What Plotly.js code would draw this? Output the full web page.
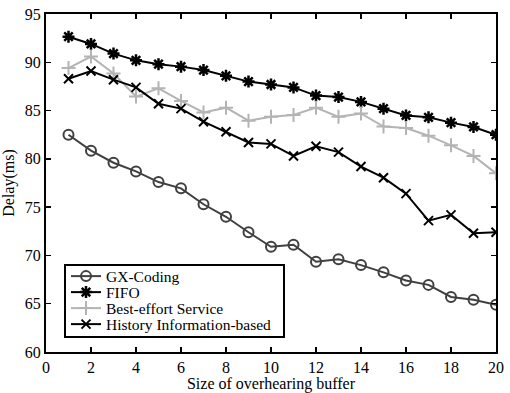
<!DOCTYPE html>
<html><head><meta charset="utf-8">
<script src="https://cdn.plot.ly/plotly-3.0.1.min.js"></script>
<style>html,body{margin:0;padding:0;background:#fff}#c{width:510px;height:393px}</style>
</head><body><div id="c"></div>
<script>
const bufferSize = [1,2,3,4,5,6,7,8,9,10,11,12,13,14,15,16,17,18,19,20];
const gxCoding = [82.5,80.85,79.6,78.7,77.6,76.95,75.3,74.0,72.4,70.9,71.1,69.35,69.6,69.0,68.25,67.4,66.95,65.7,65.4,64.9];
const fifo = [92.65,91.9,90.9,90.2,89.8,89.55,89.2,88.6,88.0,87.7,87.4,86.55,86.4,85.9,85.2,84.5,84.3,83.75,83.3,82.5];
const bestEffort = [89.4,90.6,88.85,86.45,87.3,86.0,84.8,85.3,83.95,84.35,84.55,85.3,84.35,84.7,83.35,83.2,82.4,81.4,80.3,78.5];
const history = [88.3,89.1,88.2,87.4,85.7,85.2,83.85,82.8,81.7,81.55,80.3,81.3,80.7,79.2,78.05,76.4,73.6,74.2,72.3,72.4];
const seriesNames = ["GX-Coding","FIFO","Best-effort Service","History Information-based"];

const FONT = '"Times New Roman", "Liberation Serif", "DejaVu Serif", serif';

const traces = [
  {x: bufferSize, y: gxCoding, name: seriesNames[0], mode: 'lines+markers',
   line: {color: '#404040', width: 2},
   marker: {symbol: 'circle-open', size: 10, color: '#404040', line: {width: 2, color: '#404040'}}},
  {x: bufferSize, y: fifo, name: seriesNames[1], mode: 'lines+markers',
   line: {color: '#000', width: 2},
   marker: {symbol: 'asterisk-open', size: 10, color: '#000', line: {width: 2.5, color: '#000'}}},
  {x: bufferSize, y: bestEffort, name: seriesNames[2], mode: 'lines+markers',
   line: {color: '#b4b4b4', width: 2},
   marker: {symbol: 'cross-thin-open', size: 10, color: '#b4b4b4', line: {width: 2, color: '#b4b4b4'}}},
  {x: bufferSize, y: history, name: seriesNames[3], mode: 'lines+markers',
   line: {color: '#000', width: 2},
   marker: {symbol: 'x-thin-open', size: 9, color: '#000', line: {width: 2, color: '#000'}}}
];

const axisCommon = {
  showgrid: false, zeroline: false, showline: true, linecolor: '#000', linewidth: 2,
  mirror: 'ticks', ticks: 'inside', ticklen: 5, tickwidth: 1.5, tickcolor: '#000',
  tickfont: {family: FONT, size: 16, color: '#000'}
};

const layout = {
  width: 510, height: 393,
  margin: {l: 46, r: 14, t: 14, b: 41},
  paper_bgcolor: '#fff', plot_bgcolor: '#fff',
  font: {family: FONT, color: '#000'},
  showlegend: true,
  xaxis: Object.assign({}, axisCommon, {range: [0, 20], dtick: 2, tick0: 0,
    title: {text: 'Size of overhearing buffer', standoff: 3,
      font: {family: FONT, size: 16, color: '#000'}}}),
  yaxis: Object.assign({}, axisCommon, {range: [60, 95], dtick: 5, tick0: 60,
    title: {text: 'Delay(ms)', standoff: 6,
      font: {family: FONT, size: 16, color: '#000'}}}),
  legend: {x: 0.04, y: 0.260, xanchor: 'left', yanchor: 'top',
    bgcolor: '#fff', bordercolor: '#000', borderwidth: 2,
    font: {family: FONT, size: 15.5, color: '#000'},
    tracegroupgap: 0, itemwidth: 30}
};

Plotly.newPlot('c', traces, layout, {displayModeBar: false, staticPlot: true}).then(function () {
  // tighten legend row spacing to match the reference's compact legend box
  const leg = document.querySelector('g.legend');
  if (!leg) return;
  const items = leg.querySelectorAll('g.traces');
  const re = /translate\(\s*([-\d.]+)[\s,]+([-\d.]+)\s*\)/;
  const ROW = 16, TOP = 12;
  items.forEach(function (g, i) {
    const m = (g.getAttribute('transform') || '').match(re);
    const x = m ? parseFloat(m[1]) : 0;
    g.setAttribute('transform', 'translate(' + x + ',' + (TOP + i * ROW) + ')');
  });
  const bg = leg.querySelector('rect.bg');
  if (bg) {
    bg.setAttribute('height', TOP * 2 + ROW * (items.length - 1));
    bg.setAttribute('width', 219);
  }
  const sb = leg.querySelector('g.scrollbox');
  if (sb) sb.setAttribute('transform', 'translate(0,0)');
  leg.querySelectorAll('clipPath rect, defs rect').forEach(function (r) {
    r.setAttribute('height', 200); r.setAttribute('width', 300);
  });
});
</script>
</body></html>
